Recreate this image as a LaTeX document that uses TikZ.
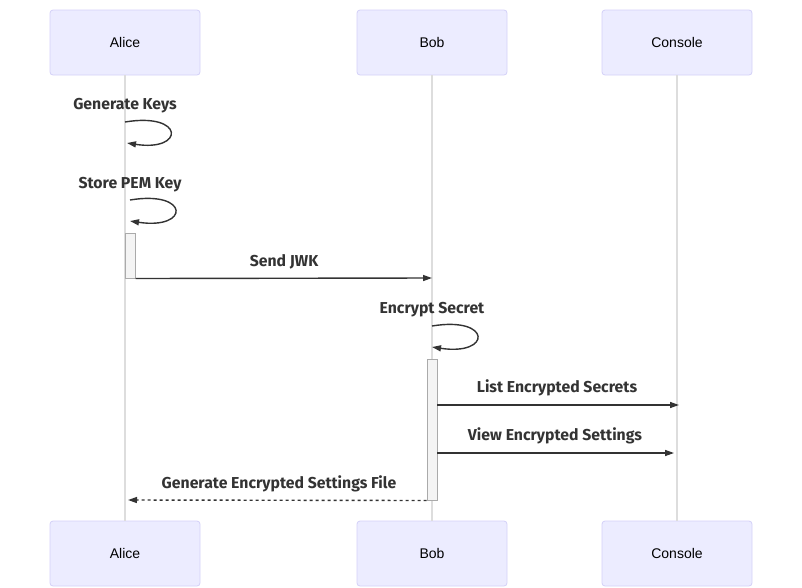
\documentclass[tikz,border=0pt]{standalone}
\usepackage{fontspec}
\setmainfont{Liberation Sans}
\newfontfamily\msgfont{Fira Sans}
\usetikzlibrary{arrows.meta}
\definecolor{actfill}{HTML}{ECECFF}
\definecolor{actdraw}{HTML}{D4D0F8}
\definecolor{lifeln}{HTML}{DDDDDD}
\definecolor{txt}{HTML}{333333}
\definecolor{actvfill}{HTML}{F4F4F4}
\definecolor{actvdraw}{HTML}{AAAAAA}
\begin{document}
\begin{tikzpicture}[x=1pt,y=-1pt,
  actor/.style={draw=actdraw,fill=actfill,rounded corners=3pt,minimum width=150pt,minimum height=65pt,font=\fontsize{14}{16}\selectfont,text=black,line width=0.8pt},
  life/.style={draw=lifeln,line width=1.2pt},
  msg/.style={draw=txt,line width=1.4pt,-{Triangle[length=9pt,width=6pt]}},
  lbl/.style={font=\msgfont\bfseries\fontsize{15.8}{17}\selectfont,text=txt},
  activ/.style={draw=actvdraw,fill=actvfill,line width=1pt}]
\useasboundingbox (0,0) rectangle (802,587);
% actors
\node[actor] (aliceT) at (125,42.5) {Alice};
\node[actor] (bobT) at (432,42.5) {Bob};
\node[actor] (conT) at (677,42.5) {Console};
\node[actor] (aliceB) at (125,553.5) {Alice};
\node[actor] (bobB) at (432,553.5) {Bob};
\node[actor] (conB) at (677,553.5) {Console};
% lifelines
\draw[life] (aliceT.south) -- (aliceB.north);
\draw[life] (bobT.south) -- (bobB.north);
\draw[life] (conT.south) -- (conB.north);
% activations
\node[activ,minimum width=10pt,minimum height=45pt,inner sep=0pt] (actA) at (130,255.5) {};
\node[activ,minimum width=10pt,minimum height=141pt,inner sep=0pt] (actB) at (432,429.5) {};
% self messages
\coordinate (gk1) at (125,122); \coordinate (gk2) at (127,143);
\node[lbl] (lgk) at (125,106) {Generate Keys};
\draw[msg] (gk1) .. controls (185,112) and (185,152) .. (gk2);
\coordinate (sp1) at (130,200); \coordinate (sp2) at (130,221);
\node[lbl] (lsp) at (130,185) {Store PEM Key};
\draw[msg] (sp1) .. controls (190,190) and (190,230) .. (sp2);
\coordinate (es1) at (432,326); \coordinate (es2) at (432,347);
\node[lbl] (les) at (432,310) {Encrypt Secret};
\draw[msg] (es1) .. controls (492,316) and (492,356) .. (es2);
% Send JWK
\coordinate (jwkB) at (432,278);
\node[lbl] (ljwk) at (284,262) {Send JWK};
\draw[msg] (actA.south east) -- (jwkB);
% List
\coordinate (lsS) at (437,405); \coordinate (lsE) at (679,405);
\node[lbl] (lls) at (557,388) {List Encrypted Secrets};
\draw[msg] (lsS) -- (lsE);
% View
\coordinate (vwS) at (437,453); \coordinate (vwE) at (674,453);
\node[lbl] (lvw) at (555,436) {View Encrypted Settings};
\draw[msg] (vwS) -- (vwE);
% Generate file
\coordinate (gfE) at (128,500);
\node[lbl] (lgf) at (279,484) {Generate Encrypted Settings File};
\draw[msg,dash pattern=on 3pt off 3pt] (actB.south west) -- (gfE);
\end{tikzpicture}
\end{document}
